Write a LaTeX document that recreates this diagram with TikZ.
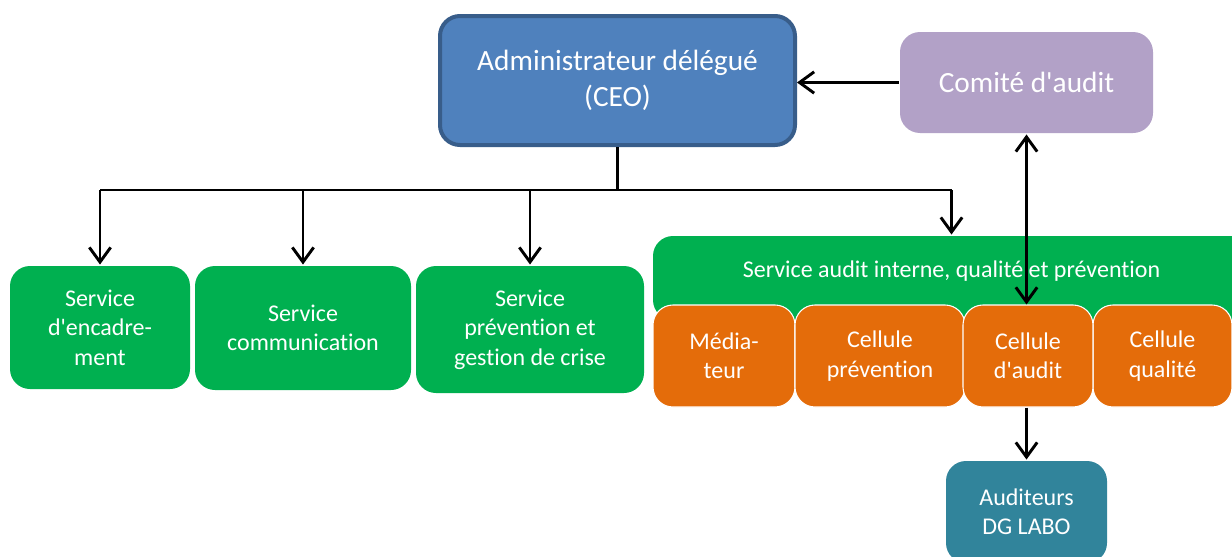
\documentclass[tikz,border=0pt]{standalone}
\usepackage{fontspec}
\setmainfont{Carlito}[Ligatures={TeXOff,NoCommon}]
\usetikzlibrary{arrows.meta}
\definecolor{ceoblue}{HTML}{4F81BD}
\definecolor{ceoedge}{HTML}{385D8A}
\definecolor{auditviolet}{HTML}{B2A1C7}
\definecolor{servgreen}{HTML}{00B050}
\definecolor{cellorange}{HTML}{E46C0A}
\definecolor{laboteal}{HTML}{31849B}
\begin{document}
\begin{tikzpicture}[x=0.75pt,y=-0.75pt,line width=2.2pt,
  every node/.style={text=white,align=center,inner sep=0pt,rounded corners=15pt},
  boite/.style={minimum width=#1},
  serv/.style={fill=servgreen,font=\fontsize{18}{22}\selectfont},
  cell/.style={fill=cellorange,draw=white,line width=0.8pt,minimum height=76.5pt,font=\fontsize{18}{22}\selectfont},
  fleche/.style={-{Straight Barb[length=11pt,width=16pt]}},
  fleches/.style={{Straight Barb[length=11pt,width=16pt]}-{Straight Barb[length=11pt,width=16pt]}}]
\useasboundingbox (0,0) rectangle (1232,557);
\node[boite=266.25pt,minimum height=96.75pt,fill=ceoblue,draw=ceoedge,line width=3pt,font=\fontsize{22}{27}\selectfont] (ceo) at (617.5,80.5) {Administrateur délégué\\(CEO)};
\node[boite=189.75pt,minimum height=75.75pt,fill=auditviolet,font=\fontsize{22}{27}\selectfont] (comite) at (1026.5,82.5) {Comité d'audit};
\node[serv,boite=135pt,minimum height=92.25pt] (enc) at (100,327.5) {Service\\d'encadre-\\ment};
\node[serv,boite=162pt,minimum height=93pt] (com) at (303,328) {Service\\communication};
\node[serv,boite=171pt,minimum height=95.25pt] (prev) at (530,329.5) {Service\\prévention et\\gestion de crise};
\node[serv,boite=447.75pt,text height=30.75pt,text depth=32.25pt] (saiqp) at (951.5,278) {Service audit interne, qualité et prévention};
\node[cell,boite=106.5pt] (med) at (724,356) {Média-\\teur};
\node[cell,boite=127.5pt] (cprev) at (880,356) {Cellule\\prévention};
\node[cell,boite=104.25pt] (cqual) at (1162.5,356) {Cellule\\qualité};
\node[cell,boite=97.5pt] (caud) at (1028,356) {Cellule\\d'audit};
\node[boite=120.75pt,minimum height=76.5pt,fill=laboteal,font=\fontsize{18}{22}\selectfont] (labo) at (1026.5,512) {Auditeurs\\DG LABO};
\draw (ceo.south) -- ++(0,43) coordinate (bar);
\draw (enc.north |- bar) -- (saiqp.north |- bar);
\foreach \n in {enc,com,prev,saiqp}
  \draw[fleche] (\n.north |- bar) -- (\n.north);
\draw[fleche] (comite.west) -- (comite.west -| ceo.east);
\draw[fleches] (comite.south) -- (comite.south |- caud.north);
\draw[fleche] (labo.north |- caud.south) -- (labo.north);
\end{tikzpicture}
\end{document}
